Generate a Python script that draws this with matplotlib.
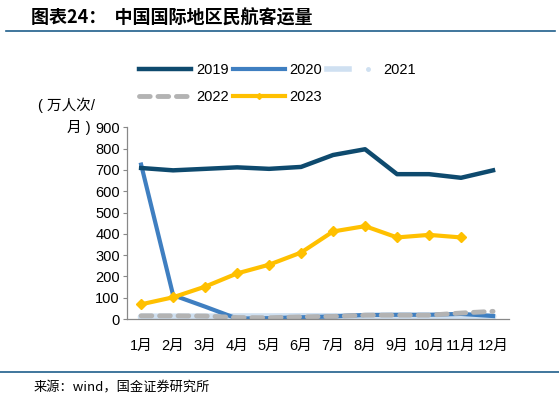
import matplotlib
matplotlib.use("Agg")
import matplotlib.pyplot as plt
from matplotlib.lines import Line2D
from matplotlib.legend_handler import HandlerTuple

plt.rcParams['font.family'] = ['Liberation Sans', 'Noto Sans CJK SC', 'DejaVu Sans']

months = ['1月', '2月', '3月', '4月', '5月', '6月', '7月', '8月', '9月', '10月', '11月', '12月']
v2019 = [709, 698, 705, 712, 705, 714, 770, 797, 680, 680, 663, 698]
v2020 = [725, 112, 58, 2, 4, 8, 12, 19, 20, 20, 24, 14]
v2021 = [10, 10, 10, 11, 11, 12, 12, 12, 12, 12, 12, 12]
v2022 = [15, 15, 14, 7, 6, 10, 12, 18, 18, 18, 28, 36]
v2023 = [69, 102, 152, 214, 255, 312, 411, 436, 383, 395, 383]

c2019 = '#0e4a6e'
c2020 = '#3f7fc1'
c2021 = '#cfe0f1'
c2022 = '#b3b3b3'
c2023 = '#ffc000'

fig = plt.figure(figsize=(5.59, 4.03), dpi=100)
ax = fig.add_axes([0.2267, 0.2084, 0.6839, 0.4757])

x = list(range(len(months)))
l21, = ax.plot(x, v2021, color=c2021, lw=5, solid_capstyle='round')
l20, = ax.plot(x, v2020, color=c2020, lw=3)
l22, = ax.plot(x, v2022, color=c2022, lw=3.5, dashes=(2.2, 1.6), dash_capstyle='round')
l19, = ax.plot(x, v2019, color=c2019, lw=3.2)
l23, = ax.plot(x[:len(v2023)], v2023, color=c2023, lw=3, marker='D', ms=5)

ax.set_xlim(-0.45, 11.5)
ax.set_ylim(0, 900)
ax.set_yticks(range(0, 901, 100))
ax.set_xticks(x)
ax.set_xticklabels(months)
ax.tick_params(axis='x', length=0, pad=14, labelsize=10.5)
ax.tick_params(axis='y', length=3, width=0.8, color='#888888', pad=2, labelsize=10.5)
for s in ['top', 'right']:
    ax.spines[s].set_visible(False)
for s in ['left', 'bottom']:
    ax.spines[s].set_color('#888888')
    ax.spines[s].set_linewidth(0.9)

# 图例：2021 用浅色线段加一个小圆点
dot = Line2D([], [], color=c2021, marker='o', ms=2.5, lw=0)
leg_line21 = Line2D([], [], color=c2021, lw=4)
leg23 = Line2D([], [], color=c2023, lw=3, marker='D', ms=3)
handles = [l19, l22, l20, leg23, (leg_line21, dot)]
labels = ['2019', '2022', '2020', '2023', '2021']
fig.legend(handles, labels, ncol=3, loc='upper left', bbox_to_anchor=(0.225, 0.877),
           frameon=False, fontsize=10.5, handlelength=3.6, handletextpad=0.3,
           columnspacing=0.3, labelspacing=0.9,
           handler_map={tuple: HandlerTuple(ndivide=2, pad=0.5)})

fig.text(0.068, 0.728, '( 万人次/', fontsize=10.5)
fig.text(0.12, 0.672, '月 )', fontsize=10.5)

fig.text(0.055, 0.955, '图表24：  中国国际地区民航客运量', fontsize=13, fontweight='bold',
         style='italic', va='center', family=['Noto Sans CJK SC'])
fig.add_artist(Line2D([0.01, 0.993], [0.923, 0.923], color='#1f5f8b', lw=1.2))
fig.add_artist(Line2D([0.0, 1.0], [0.077, 0.077], color='#1f5f8b', lw=1.2))
fig.text(0.06, 0.037, '来源：wind，国金证券研究所', fontsize=9.5, va='center',
         family=['Noto Sans CJK SC'])

fig.savefig('out.png', dpi=100)
